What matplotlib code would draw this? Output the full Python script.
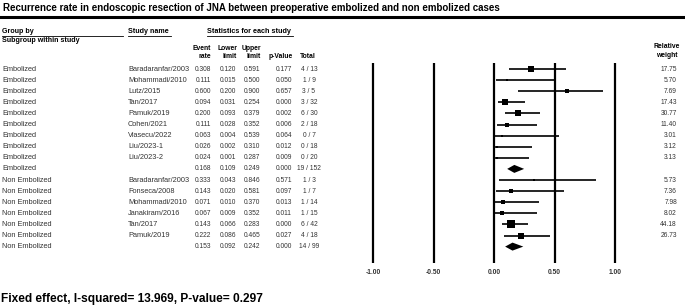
import matplotlib.pyplot as plt
from matplotlib.transforms import blended_transform_factory

plt.rcParams['font.family'] = ['Liberation Sans', 'DejaVu Sans']

groups = ['Embolized'] * 10 + ['Non Embolized'] * 7
studies = ['Baradaranfar/2003', 'Mohammadi/2010', 'Lutz/2015', 'Tan/2017', 'Pamuk/2019',
           'Cohen/2021', 'Vlasecu/2022', 'Liu/2023-1', 'Liu/2023-2', '',
           'Baradaranfar/2003', 'Fonseca/2008', 'Mohammadi/2010', 'Janakiram/2016',
           'Tan/2017', 'Pamuk/2019', '']
event_rate = [0.308, 0.111, 0.600, 0.094, 0.200, 0.111, 0.063, 0.026, 0.024, 0.168,
              0.333, 0.143, 0.071, 0.067, 0.143, 0.222, 0.153]
lower = [0.120, 0.015, 0.200, 0.031, 0.093, 0.028, 0.004, 0.002, 0.001, 0.109,
         0.043, 0.020, 0.010, 0.009, 0.066, 0.086, 0.092]
upper = [0.591, 0.500, 0.900, 0.254, 0.379, 0.352, 0.539, 0.310, 0.287, 0.249,
         0.846, 0.581, 0.370, 0.352, 0.283, 0.465, 0.242]
p_value = [0.177, 0.050, 0.657, 0.000, 0.002, 0.006, 0.064, 0.012, 0.009, 0.000,
           0.571, 0.097, 0.013, 0.011, 0.000, 0.027, 0.000]
totals = ['4 / 13', '1 / 9', '3 / 5', '3 / 32', '6 / 30', '2 / 18', '0 / 7', '0 / 18', '0 / 20',
          '19 / 152', '1 / 3', '1 / 7', '1 / 14', '1 / 15', '6 / 42', '4 / 18', '14 / 99']
weights = ['17.75', '5.70', '7.69', '17.43', '30.77', '11.40', '3.01', '3.12', '3.13', '',
           '5.73', '7.36', '7.98', '8.02', '44.18', '26.73', '']
summary_rows = [9, 16]
ticks = [-1.0, -0.5, 0.0, 0.5, 1.0]

W, H = 685, 307
fig = plt.figure(figsize=(W / 100, H / 100), dpi=100)

# row i sits at pixel y = 69 + 11.1 * i
y0, dy = 69, 11.1
ax = fig.add_axes([373 / W, 0, 242 / W, 1])
ax.set_xlim(-1, 1)
ax.set_ylim((H - y0) / dy, -y0 / dy)
ax.axis('off')

def row(py):
    return (py - y0) / dy

tr = blended_transform_factory(fig.transFigure, ax.transData)
FS = 5.3
NS = 4.8
HS = 4.9
gray = '#333333'

def ftxt(px, py, s, **kw):
    kw.setdefault('fontsize', FS)
    kw.setdefault('va', 'center')
    ax.text(px / W, row(py), s, transform=tr, **kw)

def hline(x1, x2, py, lw):
    ax.plot([x1 / W, x2 / W], [row(py), row(py)], transform=tr, color='black', lw=lw, clip_on=False)

# title and rule
fig.text(3 / W, 1 - 8 / H, 'Recurrence rate in endoscopic resection of JNA between preoperative embolized and non embolized cases',
         fontsize=7.05, fontweight='bold', va='center', ha='left')
hline(0, W, 17, 2.2)

# headers
ftxt(2, 31.5, 'Group by', fontweight='bold', fontsize=5.1)
hline(2, 123, 35.5, 0.6)
ftxt(2, 40.5, 'Subgroup within study', fontweight='bold', fontsize=5.1)
ftxt(128, 31.5, 'Study name', fontweight='bold', fontsize=5.1)
hline(128, 171, 35.5, 0.6)
ftxt(207, 31.5, 'Statistics for each study', fontweight='bold', fontsize=5.2)
hline(207, 293, 35.5, 0.6)

hdr_right = [211, 237, 261, 293, 316]
ftxt(hdr_right[0], 48, 'Event', fontweight='bold', fontsize=HS, ha='right')
ftxt(hdr_right[0], 56, 'rate', fontweight='bold', fontsize=HS, ha='right')
ftxt(hdr_right[1], 48, 'Lower', fontweight='bold', fontsize=HS, ha='right')
ftxt(hdr_right[1], 56, 'limit', fontweight='bold', fontsize=HS, ha='right')
ftxt(hdr_right[2], 48, 'Upper', fontweight='bold', fontsize=HS, ha='right')
ftxt(hdr_right[2], 56, 'limit', fontweight='bold', fontsize=HS, ha='right')
ftxt(hdr_right[3], 56, 'p-Value', fontweight='bold', fontsize=HS, ha='right')
ftxt(hdr_right[4], 56, 'Total', fontweight='bold', fontsize=HS, ha='right')
ftxt(667, 46, 'Relative', fontweight='bold', fontsize=HS, ha='center')
ftxt(667, 55, 'weight', fontweight='bold', fontsize=HS, ha='center')

col_center = [203, 228, 252, 284, 309]
for i in range(len(groups)):
    y = i
    ax.text(2 / W, y, groups[i], transform=tr, fontsize=FS, va='center', color=gray)
    ax.text(128 / W, y, studies[i], transform=tr, fontsize=FS, va='center', color=gray)
    vals = ['%.3f' % event_rate[i], '%.3f' % lower[i], '%.3f' % upper[i], '%.3f' % p_value[i], totals[i]]
    for cx, v in zip(col_center, vals):
        ax.text(cx / W, y, v, transform=tr, fontsize=NS, va='center', ha='center', color=gray)
    ax.text(677 / W, y, weights[i], transform=tr, fontsize=NS, va='center', ha='right', color=gray)

    if i in summary_rows:
        h = 0.36
        ax.fill([lower[i], event_rate[i], upper[i], event_rate[i]], [y, y - h, y, y + h],
                color='black', lw=0, clip_on=False)
    else:
        w = float(weights[i])
        side = 8 * (w / 44.18) ** 0.5
        ax.plot([lower[i], upper[i]], [y, y], color='black', lw=1.2, solid_capstyle='butt', clip_on=False)
        ax.plot(event_rate[i], y, marker='s', color='black', ms=side * 0.72, mew=0, clip_on=False)

# vertical reference lines and tick labels
for t in ticks:
    ax.plot([t, t], [row(63), row(263)], color='black', lw=1.6, solid_capstyle='butt', clip_on=False)
    ax.text(t, row(272), '%.2f' % t, fontsize=NS, fontweight='bold', ha='center', va='center', color=gray)

fig.text(1 / W, 1 - 299 / H, 'Fixed effect, I-squared= 13.969, P-value= 0.297',
         fontsize=8.6, fontweight='bold', va='center', ha='left')

fig.savefig('out.png', dpi=100)
